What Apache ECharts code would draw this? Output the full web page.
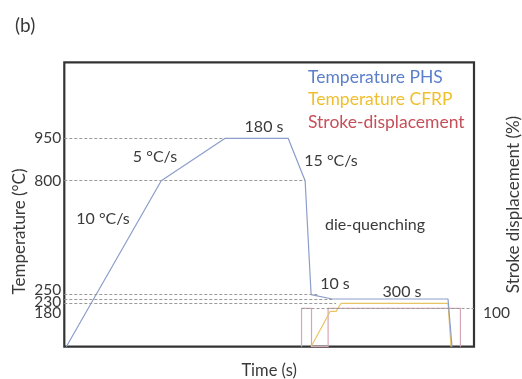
<!DOCTYPE html>
<html><head><meta charset="utf-8">
<script src="https://cdn.jsdelivr.net/npm/echarts@6/dist/echarts.min.js"></script>
<style>html,body{margin:0;padding:0;background:#fff}#c{width:522px;height:379px}</style>
</head><body><div id="c"></div>
<script>
// ---- data (schematic time units, temperatures in °C, stroke in %) ----
const phsTime = [2, 97, 161, 224, 241, 247, 268, 384, 388];
const phsTemp = [20, 800, 950, 950, 800, 250, 230, 230, 20];
const cfrpTime = [247, 266, 272, 277, 384, 387];
const cfrpTemp = [20, 150, 150, 180, 180, 20];
const strokeTime = [237.4, 237.4, 247.4, 247.4, 264, 264, 396.4, 396.4];
const strokeVal = [0, 100, 100, 0, 0, 100, 100, 0];
const tempTicks = [180, 230, 250, 800, 950];
const strokeTicks = [100];
const seriesNames = ['Temperature PHS', 'Temperature CFRP', 'Stroke-displacement'];

// schematic (non-linear) temperature scale knots
const TEMP_KNOTS = [20, 180, 230, 250, 800, 950, 1220];
const AXIS_KNOTS = [0, 43.4, 47.7, 52, 166, 208.4, 284.4];
function warp(t){
  for(let i=1;i<TEMP_KNOTS.length;i++){
    if(t<=TEMP_KNOTS[i]||i===TEMP_KNOTS.length-1){
      const a=TEMP_KNOTS[i-1],b=TEMP_KNOTS[i];
      return AXIS_KNOTS[i-1]+(t-a)/(b-a)*(AXIS_KNOTS[i]-AXIS_KNOTS[i-1]);
    }
  }
}
const zip=(xs,ys,f)=>xs.map((x,i)=>[x,f?f(ys[i]):ys[i]]);
const nearestTick=(v)=>{let best=tempTicks[0];tempTicks.forEach(t=>{if(Math.abs(warp(t)-v)<Math.abs(warp(best)-v))best=t;});return best;};

const FONT='Lato';
const TXT='#3a3a3a';
const LFS=15.5;
const chart=echarts.init(document.getElementById('c'));
// crowded low ticks are spread apart slightly, as in the source figure
const labelShift={250:[0,0,9,0],230:[5,0,0,0],180:[19,0,0,0]};
const tickGroups=[[250,800,950],[230],[180]];

const xMaxT=410;
const yMax=AXIS_KNOTS[AXIS_KNOTS.length-1];
const dashed={color:'#9a9a9a',type:[3,2],width:1};
const ann=(x,y,t)=>({type:'text',x:x,y:y,style:{text:t,font:'16px '+FONT,fill:TXT,align:'center',verticalAlign:'middle'}});

function tempAxis(ticks,withName){
  const rich={};
  ticks.forEach(t=>{rich['t'+t]={padding:labelShift[t]||[0,0,0,0],fontSize:LFS,fontFamily:FONT,color:TXT,lineHeight:15};});
  const ax={type:'value',min:0,max:yMax,position:'left',
    axisLine:{show:false},axisTick:{show:false},splitLine:{show:false},
    axisLabel:{customValues:ticks.map(warp),margin:3,fontSize:LFS,color:TXT,fontFamily:FONT,hideOverlap:false,
      formatter:(v)=>{const b=nearestTick(v);return '{t'+b+'|'+b+'}';},rich:rich}};
  if(withName){
    Object.assign(ax,{name:'Temperature (°C)',nameLocation:'middle',nameGap:36,nameRotate:90,nameMoveOverlap:false,
      nameTextStyle:{fontFamily:FONT,fontSize:17,color:TXT,padding:[0,54,0,0]}});
  }
  return ax;
}

chart.setOption({
  animation:false,
  textStyle:{fontFamily:FONT},
  grid:{left:64.3,right:48,top:62.3,bottom:32.3,show:true,borderColor:'#333',borderWidth:2.2,backgroundColor:'transparent',outerBoundsMode:'none',containLabel:false},
  legend:{
    orient:'vertical',left:298,top:63,icon:'none',itemWidth:0,itemHeight:14,itemGap:4.5,
    textStyle:{fontFamily:FONT,fontSize:17.5},
    data:[
      {name:seriesNames[0],textStyle:{color:'#5b7fca'}},
      {name:seriesNames[1],textStyle:{color:'#f0bf2a'}},
      {name:seriesNames[2],textStyle:{color:'#c5505a'}}
    ]
  },
  xAxis:{type:'value',min:0,max:xMaxT,name:'Time (s)',nameLocation:'middle',nameGap:15,nameMoveOverlap:false,
    nameTextStyle:{fontFamily:FONT,fontSize:16.5,color:TXT},
    axisLine:{show:false},axisTick:{show:false},axisLabel:{show:false},splitLine:{show:false}},
  yAxis:[
    tempAxis(tickGroups[0],true),
    {type:'value',min:0,max:100*284.4/38.4,position:'right',name:'Stroke displacement (%)',nameLocation:'middle',nameGap:31,nameRotate:90,nameMoveOverlap:false,
     nameTextStyle:{fontFamily:FONT,fontSize:17,color:TXT},
     axisLine:{show:false},axisTick:{show:false},splitLine:{show:false},
     axisLabel:{customValues:strokeTicks,margin:9,fontSize:LFS,color:TXT,fontFamily:FONT,hideOverlap:false,
       formatter:(v)=>'{a|'+v+'}',rich:{a:{padding:[10,0,0,0],fontSize:LFS,fontFamily:FONT,color:TXT}}}},
    tempAxis(tickGroups[1],false),
    tempAxis(tickGroups[2],false)
  ],
  series:[
    {name:seriesNames[0],type:'line',showSymbol:false,symbol:'none',data:zip(phsTime,phsTemp,warp),
     lineStyle:{color:'#8b9dca',width:1.2},itemStyle:{color:'#8b9dca'},z:3,
     markLine:{silent:true,symbol:'none',label:{show:false},lineStyle:dashed,
       data:[
         [{coord:[0,warp(950)]},{coord:[phsTime[2],warp(950)]}],
         [{coord:[0,warp(800)]},{coord:[phsTime[4],warp(800)]}],
         [{coord:[0,warp(250)]},{coord:[255,warp(250)]}],
         [{coord:[0,warp(230)]},{coord:[phsTime[6],warp(230)]}],
         [{coord:[0,warp(180)]},{coord:[cfrpTime[2],warp(180)]}]
       ]}},
    {name:seriesNames[1],type:'line',showSymbol:false,symbol:'none',data:zip(cfrpTime,cfrpTemp,warp),
     lineStyle:{color:'#e8c463',width:1.2},itemStyle:{color:'#e8c463'},z:2},
    {name:seriesNames[2],type:'line',yAxisIndex:1,showSymbol:false,symbol:'none',data:zip(strokeTime,strokeVal),
     lineStyle:{color:'#d6a5b6',width:1.2},itemStyle:{color:'#d6a5b6'},z:1,
     markLine:{silent:true,symbol:'none',label:{show:false},lineStyle:dashed,
       data:[[{coord:[strokeTime[1],100]},{coord:[xMaxT,100]}]]}}
  ],
  graphic:[
    {type:'text',left:15,top:16,style:{text:'(b)',font:'19px '+FONT,fill:TXT}},
    ann(264,127,'180 s'),
    ann(155,157,'5 °C/s'),
    ann(331,161,'15 °C/s'),
    ann(103,219,'10 °C/s'),
    ann(375,225,'die-quenching'),
    ann(335,284,'10 s'),
    ann(402,292,'300 s')
  ]
});
</script></body></html>
